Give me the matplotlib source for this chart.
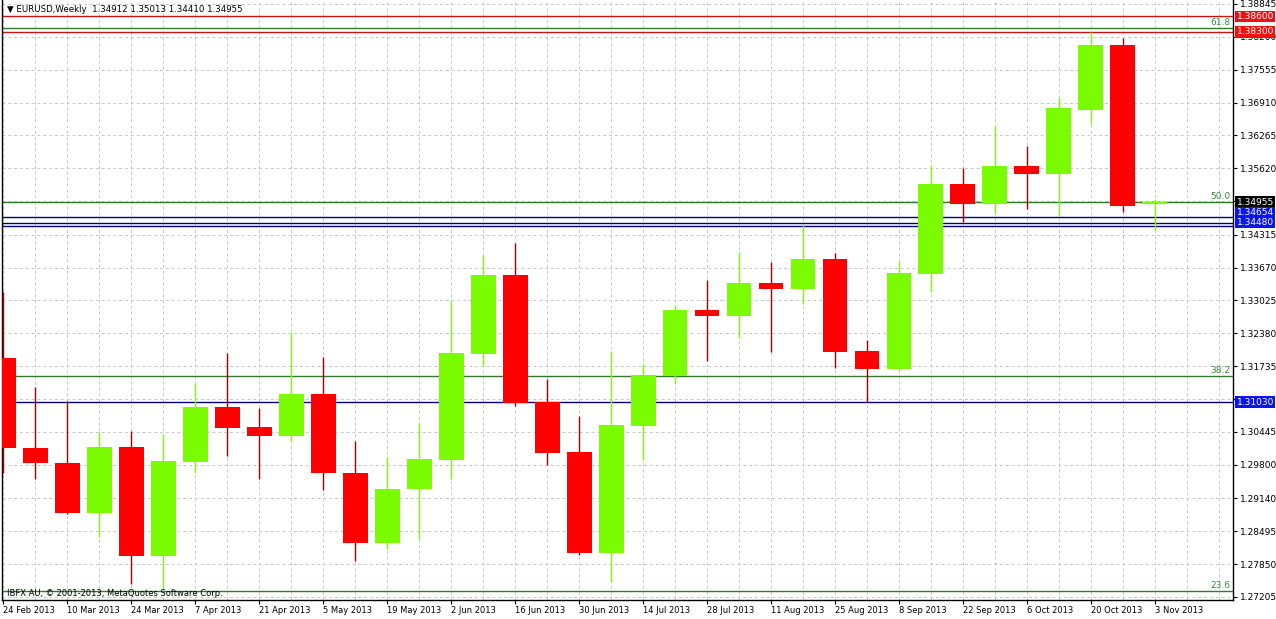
# EURUSD weekly candles, MT4-style chart with fib levels and price lines.

import numpy as np
import matplotlib
matplotlib.use("Agg")
import matplotlib.pyplot as plt

# weekly OHLC, 24 Feb 2013 .. 3 Nov 2013
opens = [1.3190, 1.3013, 1.2984, 1.2885, 1.3015, 1.2801, 1.2985, 1.3093, 1.3054, 1.3037,
         1.3119, 1.2964, 1.2827, 1.2933, 1.2989, 1.3198, 1.3353, 1.3103, 1.3005, 1.2807,
         1.3056, 1.3154, 1.3284, 1.3272, 1.3337, 1.3325, 1.3384, 1.3203, 1.3168, 1.3355,
         1.3531, 1.3492, 1.3567, 1.3551, 1.3676, 1.3804, 1.34912]
highs = [1.3319, 1.3133, 1.3105, 1.3044, 1.3046, 1.3040, 1.3139, 1.3199, 1.3091, 1.3241,
         1.3192, 1.3027, 1.2995, 1.3062, 1.3304, 1.3392, 1.3415, 1.3148, 1.3076, 1.3203,
         1.3178, 1.3294, 1.3343, 1.3398, 1.3378, 1.3451, 1.3396, 1.3225, 1.3380, 1.3569,
         1.3563, 1.3645, 1.3606, 1.3700, 1.3830, 1.3818, 1.35013]
lows = [1.2964, 1.2952, 1.2883, 1.2838, 1.2746, 1.2738, 1.2964, 1.2997, 1.2952, 1.3025,
        1.2931, 1.2791, 1.2815, 1.2834, 1.2952, 1.3174, 1.3095, 1.2980, 1.2803, 1.2750,
        1.2989, 1.3141, 1.3184, 1.3229, 1.3201, 1.3296, 1.3170, 1.3103, 1.3166, 1.3319,
        1.3457, 1.3474, 1.3482, 1.3468, 1.3649, 1.3476, 1.34410]
closes = [1.3013, 1.2984, 1.2885, 1.3015, 1.2801, 1.2987, 1.3093, 1.3052, 1.3037, 1.3119,
          1.2964, 1.2827, 1.2933, 1.2991, 1.3199, 1.3353, 1.3101, 1.3003, 1.2807, 1.3058,
          1.3156, 1.3284, 1.3272, 1.3337, 1.3325, 1.3384, 1.3201, 1.3168, 1.3356, 1.3531,
          1.3492, 1.3567, 1.3551, 1.3680, 1.3804, 1.3488, 1.34955]

date_labels = ["24 Feb 2013", "10 Mar 2013", "24 Mar 2013", "7 Apr 2013", "21 Apr 2013",
               "5 May 2013", "19 May 2013", "2 Jun 2013", "16 Jun 2013", "30 Jun 2013",
               "14 Jul 2013", "28 Jul 2013", "11 Aug 2013", "25 Aug 2013", "8 Sep 2013",
               "22 Sep 2013", "6 Oct 2013", "20 Oct 2013", "3 Nov 2013"]

price_ticks = [1.38845, 1.38200, 1.37555, 1.36910, 1.36265, 1.35620, 1.34975, 1.34315,
               1.33670, 1.33025, 1.32380, 1.31735, 1.31090, 1.30445, 1.29800, 1.29140,
               1.28495, 1.27850, 1.27205]
hidden_ticks = [1.34975, 1.31090]   # covered by the price boxes in MT4

fib_levels = [1.2732, 1.3154, 1.3496, 1.3837]
fib_names = ["23.6", "38.2", "50.0", "61.8"]

red_lines = [1.38600, 1.38300]
blue_lines = [1.34654, 1.3455, 1.34480, 1.31030]
bid = 1.34955

BULL = "#7CFC00"
BEAR = "#FF0000"
BEAR_WICK = "#A00000"

fig = plt.figure(figsize=(12.76, 6.19), dpi=100)
ax = fig.add_axes([2.5 / 1276, 19 / 619, 1230.5 / 1276, 600 / 619])

x = np.arange(len(opens))
o = np.array(opens)
c = np.array(closes)
up = c >= o

# wicks
ax.vlines(x[up], np.array(lows)[up], np.array(highs)[up], color=BULL, lw=1, zorder=3)
ax.vlines(x[~up], np.array(lows)[~up], np.array(highs)[~up], color=BEAR_WICK, lw=1, zorder=3)
# bodies
ax.bar(x, np.abs(c - o), bottom=np.minimum(o, c), width=0.78,
       color=np.where(up, BULL, BEAR), linewidth=0, zorder=4)

# horizontal levels
for v in fib_levels:
    ax.axhline(v, color="#2F7A2F", lw=1, zorder=2)
for v, name in zip(fib_levels, fib_names):
    ax.annotate(name, (1, v), xycoords=ax.get_yaxis_transform(), xytext=(-2, 1),
                textcoords="offset points", ha="right", va="bottom",
                fontsize=6.5, color="#3C8A3C")
for v in red_lines:
    ax.axhline(v, color="#D01010", lw=1, zorder=2)
for v in blue_lines:
    ax.axhline(v, color="#00007F", lw=1, zorder=2)

ax.set_xlim(-0.02, 38.44)
ax.set_ylim(1.271455, 1.389235)

# grid
ax.set_xticks(np.arange(0, 39), minor=True)
ax.set_xticks(np.arange(0, len(opens), 2))
ax.set_xticklabels(date_labels, ha="left", fontsize=6)
ax.set_yticks(price_ticks)
ax.set_yticklabels(["" if v in hidden_ticks else f"{v:.5f}" for v in price_ticks], fontsize=6.5)
ax.yaxis.tick_right()
ax.grid(True, which="both", color="#C8C8C8", lw=0.7, ls=(0, (3, 3)), zorder=0)
ax.set_axisbelow(True)
ax.tick_params(axis="x", which="major", length=3, pad=1, direction="out")
ax.tick_params(axis="x", which="minor", length=0)
ax.tick_params(axis="y", length=3, pad=2, direction="out")
ax.spines["top"].set_visible(False)
for s in ("left", "right", "bottom"):
    ax.spines[s].set_linewidth(1)


# price labels on the right scale
def price_box(v, text, face, dy=0):
    ax.annotate(text, (1, v), xycoords=ax.get_yaxis_transform(), xytext=(2.5, dy),
                textcoords="offset points", ha="left", va="center", fontsize=6.5,
                color="white", annotation_clip=False, zorder=10,
                bbox=dict(boxstyle="square,pad=0.15", facecolor=face, edgecolor="none"))


price_box(red_lines[0], "1.38600", "#F01010")
price_box(red_lines[1], "1.38300", "#F01010")
price_box(bid, "1.34955", "black")
price_box(1.34654, "1.34654", "#0A14F0", dy=3.5)
price_box(1.34480, "1.34480", "#0A14F0", dy=3)
price_box(1.31030, "1.31030", "#0A14F0")

fig.text(7 / 1276, 1 - 9 / 619, "\u25bc EURUSD,Weekly  1.34912 1.35013 1.34410 1.34955",
         fontsize=6.2, va="center", ha="left")
ax.text(0.004, 0.01, "IBFX AU, \u00a9 2001-2013, MetaQuotes Software Corp.",
        transform=ax.transAxes, fontsize=6, va="center", ha="left")

fig.savefig("out.png", dpi=100)
